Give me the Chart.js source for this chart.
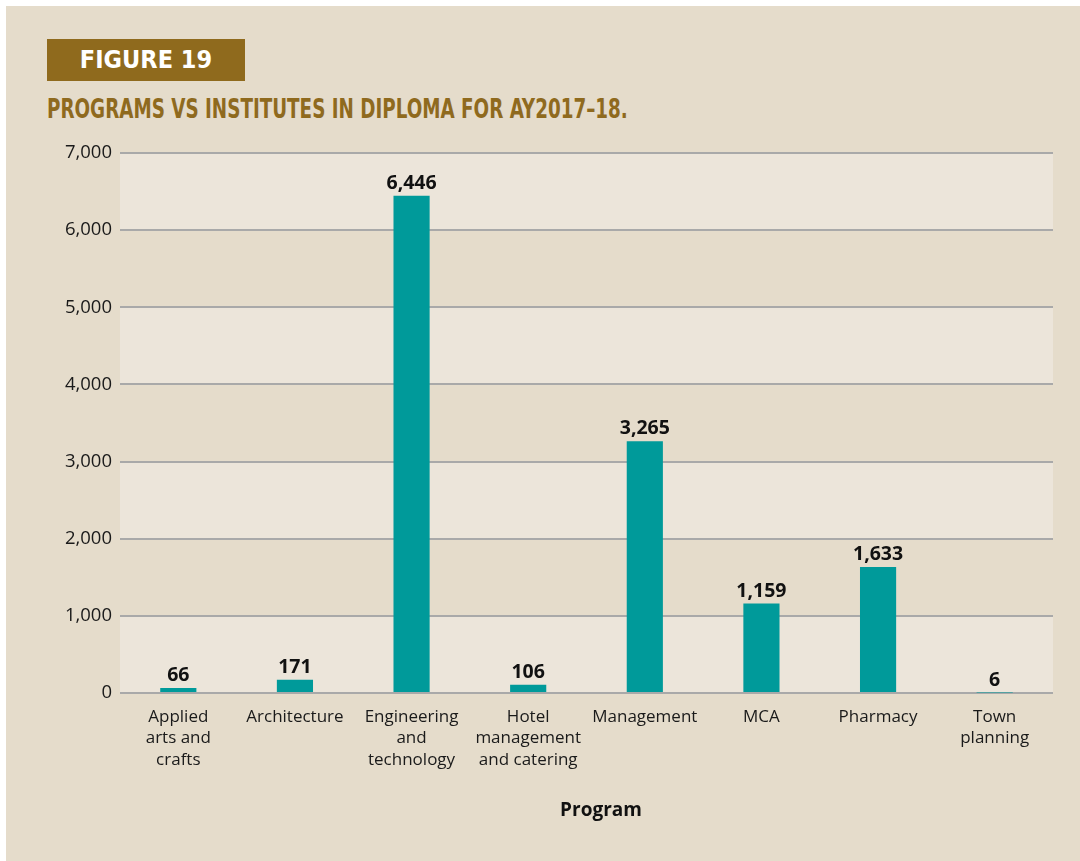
<!DOCTYPE html>
<html>
<head>
<meta charset="utf-8">
<script src="https://cdn.jsdelivr.net/npm/chart.js@4"></script>
<style>
  html, body { margin: 0; padding: 0; background: #ffffff; }
  #wrap { position: relative; width: 1080px; height: 861px; overflow: hidden; }
  #panel { position: absolute; left: 6px; top: 6px; right: 0; bottom: 0; background: #e5dccb; }
  #figBox {
    position: absolute; left: 47px; top: 39px; width: 198px; height: 42px;
    background: #8f6a1d; color: #fff;
    font-family: "Liberation Sans Narrow", "DejaVu Sans Condensed", sans-serif;
    font-weight: bold; font-size: 25px; line-height: 42px; text-align: center;
  }
  #title {
    position: absolute; left: 47px; top: 94px; white-space: nowrap;
    color: #8f6a1e; transform-origin: 0 0;
    font-family: "Liberation Sans Narrow", "DejaVu Sans Condensed", sans-serif;
    font-weight: bold; font-size: 27px; line-height: 30px;
  }
  canvas { position: absolute; left: 0; top: 0; }
</style>
</head>
<body>
<div id="wrap">
  <div id="panel"></div>
  <div id="figBox">FIGURE 19</div>
  <div id="title">PROGRAMS VS INSTITUTES IN DIPLOMA FOR AY2017–18.</div>
  <canvas id="chart" width="1080" height="861"></canvas>
</div>
<script>
const programs = [
    ["Applied", "arts and", "crafts"],
    "Architecture",
    ["Engineering", "and", "technology"],
    ["Hotel", "management", "and catering"],
    "Management",
    "MCA",
    "Pharmacy",
    ["Town", "planning"]
];
const institutes = [66, 171, 6446, 106, 3265, 1159, 1633, 6];
const yTicks = [0, 1000, 2000, 3000, 4000, 5000, 6000, 7000];
const xTitle = "Program";

// squeeze the heading to the width it has in the print
const titleEl = document.getElementById("title");
titleEl.style.transform = "scaleX(" + (581 / titleEl.scrollWidth) + ")";

const fmt = (v) => Number(v).toLocaleString("en-US");

// alternate light bands behind the grid
const bandPlugin = {
    id: "bands",
    beforeDraw(chart) {
        const { ctx, chartArea } = chart;
        const y = chart.scales.y;
        ctx.save();
        ctx.fillStyle = "#ece5da";
        for (let i = 0; i < yTicks.length - 1; i += 2) {
            const top = y.getPixelForValue(yTicks[i + 1]);
            const bottom = y.getPixelForValue(yTicks[i]);
            ctx.fillRect(chartArea.left, top, chartArea.right - chartArea.left, bottom - top);
        }
        ctx.restore();
    }
};

// value above each bar, and the axis title (centred on the page, not the plot)
const valuePlugin = {
    id: "values",
    afterDatasetsDraw(chart) {
        const { ctx } = chart;
        const meta = chart.getDatasetMeta(0);
        ctx.save();
        ctx.font = "bold 19.5px 'Open Sans'";
        ctx.fillStyle = "#111";
        ctx.textAlign = "center";
        ctx.textBaseline = "alphabetic";
        meta.data.forEach((bar, i) => {
            ctx.fillText(fmt(institutes[i]), bar.x, bar.y - 7);
        });
        ctx.font = "bold 19px 'Open Sans'";
        ctx.textBaseline = "middle";
        ctx.fillText(xTitle, 601, 811);
        ctx.restore();
    }
};

let ctx = document.getElementById("chart");
const chartConfig = {
    type: "bar",
    data: {
        labels: programs,
        datasets: [{
            label: "Institutes",
            data: institutes,
            backgroundColor: "#009a9a",
            categoryPercentage: 1,
            barPercentage: 0.31,
        }]
    },
    options: {
        responsive: false,
        animation: false,
        layout: {
            padding: { top: 153, right: 27, left: 0, bottom: 0 }
        },
        plugins: {
            legend: { display: false },
            tooltip: { enabled: false }
        },
        scales: {
            y: {
                min: 0,
                max: 7000,
                afterFit: (scale) => { scale.width = 120; },
                ticks: {
                    stepSize: 1000,
                    padding: 8,
                    color: "#1a1a1a",
                    font: { family: "'Open Sans'", size: 18.5 },
                    callback: (v) => fmt(v)
                },
                grid: { color: "#a9a9a9", lineWidth: 2, drawTicks: false },
                border: { display: false }
            },
            x: {
                afterFit: (scale) => { scale.height = 168; },
                ticks: {
                    padding: 5,
                    color: "#1a1a1a",
                    maxRotation: 0,
                    autoSkip: false,
                    font: { family: "'Open Sans'", size: 17, lineHeight: 1.27 }
                },
                grid: { display: false },
                border: { display: false }
            }
        }
    },
    plugins: [bandPlugin, valuePlugin]
};
let chart = new Chart(ctx, chartConfig);
</script>
</body>
</html>
